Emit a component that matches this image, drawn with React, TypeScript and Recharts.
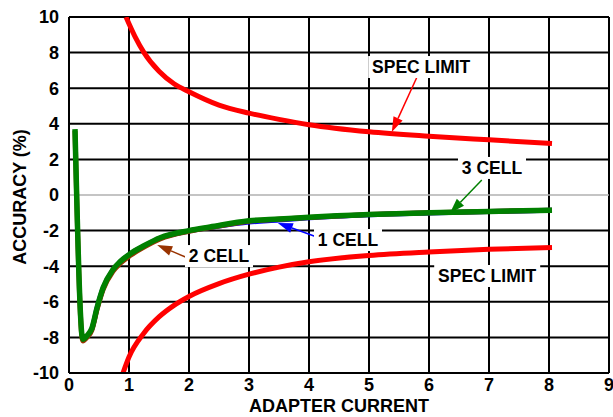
import React from 'react';
import { LineChart, Line, XAxis, YAxis, CartesianGrid, ReferenceLine, ReferenceDot, Label } from 'recharts';

const xTicks = [0, 1, 2, 3, 4, 5, 6, 7, 8, 9];
const yTicks = [-10, -8, -6, -4, -2, 0, 2, 4, 6, 8, 10];

// upper spec limit
const upperSpecX = [0.95, 1.1, 1.25, 1.5, 1.75, 2, 2.5, 3, 3.5, 4, 5, 6, 7, 8.05];
const upperSpecY = [10, 8.9, 8.0, 6.95, 6.25, 5.8, 5.05, 4.6, 4.25, 3.95, 3.55, 3.3, 3.1, 2.9];

// lower spec limit
const lowerSpecX = [0.9, 1.0, 1.25, 1.5, 1.75, 2, 2.5, 3, 3.5, 4, 5, 6, 7, 8.05];
const lowerSpecY = [-10, -9.1, -7.75, -6.85, -6.2, -5.7, -4.98, -4.45, -4.05, -3.75, -3.4, -3.2, -3.05, -2.95];

// cell curves (mostly on top of each other)
const cell1X = [0.23, 0.3, 0.38, 0.47, 0.57, 0.73, 0.85, 1.02, 1.25, 1.52, 2, 2.35, 3, 3.5, 4, 5, 6, 7, 8.05];
const cell1Y = [-8.15, -7.95, -7.55, -6.32, -5.22, -4.22, -3.77, -3.32, -2.87, -2.42, -2.02, -1.83, -1.52, -1.41, -1.28, -1.11, -1.01, -0.93, -0.86];

const cell2X = [0.1, 0.23, 0.3, 0.38, 0.47, 0.57, 0.73, 0.85, 1.02, 1.25, 1.52, 2, 2.35, 3, 3.5, 4, 5, 6, 7, 8.05];
const cell2Y = [3.6, -8.2, -8.0, -7.6, -6.4, -5.3, -4.3, -3.85, -3.4, -2.93, -2.47, -2.04, -1.83, -1.47, -1.36, -1.26, -1.1, -1.0, -0.92, -0.85];

const cell3X = [0.1, 0.23, 0.3, 0.38, 0.47, 0.57, 0.73, 0.85, 1.02, 1.25, 1.52, 2, 2.35, 3, 3.5, 4, 5, 6, 7, 8.05];
const cell3Y = [3.7, -8.1, -7.9, -7.5, -6.3, -5.2, -4.2, -3.75, -3.3, -2.85, -2.4, -2.0, -1.8, -1.45, -1.35, -1.25, -1.1, -1.0, -0.92, -0.85];

const toPoints = (xs: number[], ys: number[]) => xs.map((x, i) => ({ x, y: ys[i] }));

const FONT = '"Liberation Sans", Arial, Helvetica, sans-serif';

const callouts = [
  { text: 'SPEC LIMIT', x: 5.87, y: 7.19, w: 106, color: '#ff0000', from: [5.8, 6.63], to: [5.38, 3.54] },
  { text: '3 CELL', x: 7.05, y: 1.52, w: 68, color: '#008000', from: [6.88, 0.84], to: [6.35, -1.01] },
  { text: '1 CELL', x: 4.65, y: -2.53, w: 68, color: '#0000ff', from: [4.13, -2.36], to: [3.48, -1.57] },
  { text: '2 CELL', x: 2.5, y: -3.43, w: 68, color: '#993300', from: [1.98, -3.54], to: [1.47, -2.81] },
  { text: 'SPEC LIMIT', x: 6.97, y: -4.55, w: 106, color: null, from: null, to: null },
];

const arrowShape = (color: string) => (props: any) => {
  const { x1, y1, x2, y2 } = props;
  const ang = Math.atan2(y2 - y1, x2 - x1);
  const len = 15;
  const hw = 5;
  const bx = x2 - len * Math.cos(ang);
  const by = y2 - len * Math.sin(ang);
  const px = -Math.sin(ang) * hw;
  const py = Math.cos(ang) * hw;
  return (
    <g>
      <line x1={x1} y1={y1} x2={bx} y2={by} stroke={color} strokeWidth={1.5} />
      <polygon points={`${x2},${y2} ${bx + px},${by + py} ${bx - px},${by - py}`} fill={color} />
    </g>
  );
};

const labelShape = (text: string, w: number) => (props: any) => {
  const { cx, cy } = props;
  return (
    <g>
      <rect x={cx - w / 2} y={cy - 11} width={w} height={22} fill="#ffffff" />
      <text x={cx} y={cy} textAnchor="middle" dominantBaseline="central" fontFamily={FONT}
        fontWeight="bold" fontSize={17.5} fill="#000">{text}</text>
    </g>
  );
};

const tickStyle = { fontFamily: FONT, fontWeight: 'bold', fontSize: 18, fill: '#000' };

export default function App() {
  return (
    <div style={{ width: 613, height: 417, background: '#fff' }}>
      <style>{'body{margin:0}'}</style>
      <LineChart width={613} height={417} margin={{ top: 17, right: 4, bottom: 0, left: 0 }}>
        <CartesianGrid stroke="#000" strokeWidth={2} horizontalValues={yTicks.filter((v) => v !== 0)}
          verticalValues={xTicks} />
        <ReferenceLine y={0} stroke="#b0b0b0" strokeWidth={1.5} />
        <XAxis type="number" dataKey="x" domain={[0, 9]} ticks={xTicks} interval={0} height={44}
          axisLine={{ stroke: '#000', strokeWidth: 2 }} tickLine={false} tickSize={4} tickMargin={1} tick={tickStyle}>
          <Label value="ADAPTER CURRENT" position="insideBottom" offset={5}
            style={{ fontFamily: FONT, fontWeight: 'bold', fontSize: 18, fill: '#000' }} />
        </XAxis>
        <YAxis type="number" dataKey="y" domain={[-10, 10]} ticks={yTicks} interval={0} width={69}
          allowDataOverflow axisLine={{ stroke: '#000', strokeWidth: 2 }} tickLine={false} tickMargin={4} tick={tickStyle}>
          <Label content={(p: any) => {
            const vb = p.viewBox;
            const cx = vb.x + 20;
            const cy = vb.y + vb.height / 2 + 2;
            return (
              <text x={cx} y={cy} transform={`rotate(-90, ${cx}, ${cy})`} textAnchor="middle"
                dominantBaseline="central" fontFamily={FONT} fontWeight="bold" fontSize={18} fill="#000">
                ACCURACY (%)
              </text>
            );
          }} />
        </YAxis>
        <Line data={toPoints(upperSpecX, upperSpecY)} dataKey="y" type="monotone" stroke="#ff0000"
          strokeWidth={5} dot={false} isAnimationActive={false} />
        <Line data={toPoints(lowerSpecX, lowerSpecY)} dataKey="y" type="monotone" stroke="#ff0000"
          strokeWidth={5} dot={false} isAnimationActive={false} />
        <Line data={toPoints(cell1X, cell1Y)} dataKey="y" type="monotone" stroke="#0000ff"
          strokeWidth={5} dot={false} isAnimationActive={false} />
        <Line data={toPoints(cell2X, cell2Y)} dataKey="y" type="monotone" stroke="#993300"
          strokeWidth={5} dot={false} isAnimationActive={false} />
        <Line data={toPoints(cell3X, cell3Y)} dataKey="y" type="monotone" stroke="#008000"
          strokeWidth={5.5} dot={false} isAnimationActive={false} />
        {callouts.map((c, i) => (
          <ReferenceDot key={`l${i}`} x={c.x} y={c.y} r={1} ifOverflow="visible" shape={labelShape(c.text, c.w)} />
        ))}
        {callouts.filter((c) => c.from && c.to).map((c, i) => (
          <ReferenceLine key={`a${i}`} ifOverflow="visible"
            segment={[{ x: c.from![0], y: c.from![1] }, { x: c.to![0], y: c.to![1] }]}
            shape={arrowShape(c.color!)} />
        ))}
      </LineChart>
    </div>
  );
}
